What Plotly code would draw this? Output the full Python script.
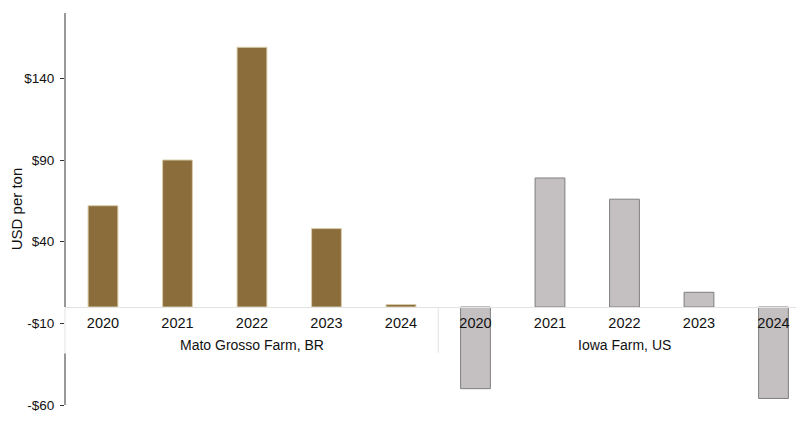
import plotly.graph_objects as go

years = ["2020", "2021", "2022", "2023", "2024"]
groups = ["Mato Grosso Farm, BR", "Iowa Farm, US"]
mato_values = [62, 90, 159, 48, 1.5]
iowa_values = [-50, 79, 66, 9, -56]
ytick_vals = [-60, -10, 40, 90, 140]
ytick_text = ["-$60", "-$10", "$40", "$90", "$140"]

x_mato = list(range(5))
x_iowa = list(range(5, 10))

FONT = "Liberation Sans, Arial, sans-serif"

fig = go.Figure()
fig.add_trace(go.Bar(
    x=x_mato, y=mato_values, width=0.4,
    marker=dict(color="#8A6D3B", line=dict(color="#D8CCAA", width=1)),
    showlegend=False, hoverinfo="skip"))
fig.add_trace(go.Bar(
    x=x_iowa, y=iowa_values, width=0.4,
    marker=dict(color="#C4C0C1", line=dict(color="#7F7F7F", width=1)),
    showlegend=False, hoverinfo="skip"))

ymin, ymax = -60, 180
fig.update_layout(
    width=796, height=418,
    margin=dict(l=57, r=4, t=5, b=21),
    paper_bgcolor="white", plot_bgcolor="white",
    font=dict(family=FONT, size=13, color="#111111"),
    barmode="overlay",
    xaxis=dict(
        range=[-0.51, 9.356],
        tickvals=list(range(10)), ticktext=years + years,
        anchor="free", position=(0 - ymin) / (ymax - ymin),
        showline=True, linecolor="#E3E3E3", linewidth=1,
        ticks="", showgrid=False, zeroline=False,
        tickfont=dict(size=14.5, color="#111111"),
        ticklabelstandoff=3,
        automargin=False,
    ),
    yaxis=dict(
        range=[ymin, ymax],
        tickvals=ytick_vals, ticktext=ytick_text,
        showline=False, showgrid=False, zeroline=False,
        ticks="outside", ticklen=4, tickcolor="#333333", tickwidth=1,
        tickfont=dict(size=13.5, color="#111111"),
        ticklabelstandoff=3,
        automargin=False,
        title=dict(text="USD per ton", font=dict(size=15), standoff=1),
    ),
)

# y axis line, interrupted by the category label band
fig.add_shape(type="line", xref="paper", yref="y", x0=0, x1=0, y0=0, y1=ymax,
              line=dict(color="#333333", width=1))
fig.add_shape(type="line", xref="paper", yref="y", x0=0, x1=0, y0=-28.4, y1=ymin,
              line=dict(color="#333333", width=1))
# light band borders
fig.add_shape(type="line", xref="paper", yref="y", x0=0, x1=0, y0=0, y1=-28,
              line=dict(color="#E3E3E3", width=1))
fig.add_shape(type="line", xref="x", yref="y", x0=4.5, x1=4.5, y0=0, y1=-28,
              line=dict(color="#E3E3E3", width=1))

for gi, g in enumerate(groups):
    fig.add_annotation(x=2 + 5 * gi, y=0, xref="x", yref="y", text=g,
                       showarrow=False, yanchor="middle", yshift=-38,
                       font=dict(size=14, color="#111111"))

fig.write_html("out.html")
